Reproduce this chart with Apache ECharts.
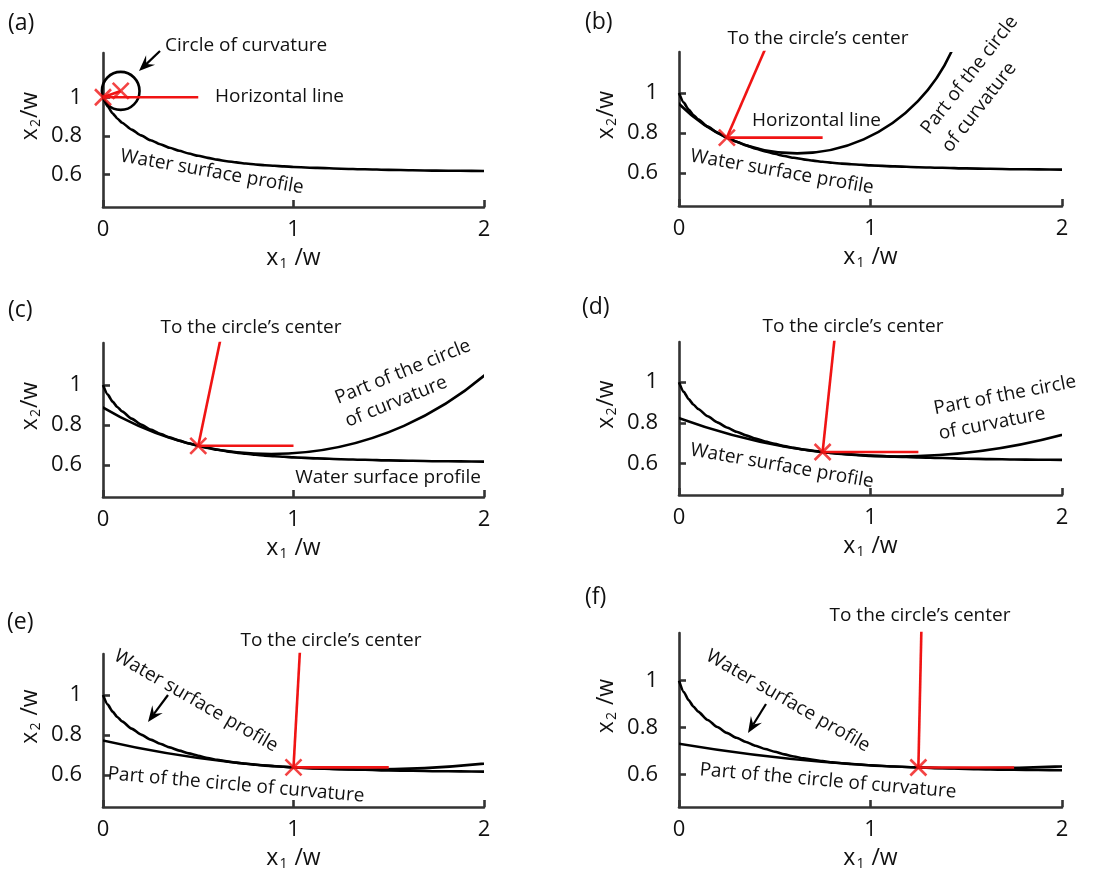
<!DOCTYPE html>
<html><head><meta charset="utf-8">
<script src="https://cdn.jsdelivr.net/npm/echarts@6/dist/echarts.min.js"></script>
<style>html,body{margin:0;padding:0;background:#fff}#c{width:1099px;height:872px}</style>
</head><body><div id="c"></div>
<script>
// ---- data ----
const profileX = [0, 0.025, 0.05, 0.075, 0.1, 0.15, 0.2, 0.25, 0.3, 0.35, 0.4, 0.45, 0.5, 0.55, 0.6, 0.65, 0.7, 0.75, 0.8, 0.85, 0.9, 0.95, 1.0, 1.125, 1.25, 1.375, 1.5, 1.625, 1.75, 1.875, 2.0];
const profileY = [1.0, 0.952, 0.917, 0.89, 0.868, 0.832, 0.802, 0.777, 0.756, 0.738, 0.722, 0.708, 0.696, 0.685, 0.676, 0.668, 0.662, 0.656, 0.651, 0.647, 0.644, 0.641, 0.638, 0.633, 0.629, 0.626, 0.623, 0.621, 0.619, 0.618, 0.617];
const panelLabels = ['(a)', '(b)', '(c)', '(d)', '(e)', '(f)'];
const pointX = [0, 0.25, 0.5, 0.75, 1.0, 1.25];
const pointY = [1.0, 0.777, 0.696, 0.656, 0.638, 0.629];
const horizEndX = [0.5, 0.75, 1.0, 1.25, 1.5, 1.75];
const centerX = [0.093, 0.617, 0.883, 1.139, 1.372, 1.552];
const centerY = [1.033, 1.590, 2.445, 4.140, 7.070, 11.940];
const radius = [0.0987, 0.892, 1.790, 3.506, 6.443, 11.315];
const xTicks = [0, 1, 2];
const yTicks = [0.6, 0.8, 1];

// ---- layout / style ----
const FONT = 'Open Sans';
const TXT = '#111';
const AX = '#333';
const RED = '#f01414';
const panels = [
  {left: 103, top: 53, width: 381, height: 154, min: 0.43, max: 1.23, yname: 'x{s|2}/w'},
  {left: 679, top: 52, width: 383, height: 154, min: 0.435, max: 1.205, yname: 'x{s|2}/w'},
  {left: 103, top: 343, width: 381, height: 154, min: 0.44, max: 1.21, yname: 'x{s|2}/w'},
  {left: 679, top: 342, width: 383, height: 153, min: 0.444, max: 1.198, yname: 'x{s|2}/w'},
  {left: 103, top: 654, width: 381, height: 153, min: 0.44, max: 1.205, yname: 'x{s|2} /w'},
  {left: 679, top: 633, width: 383, height: 174, min: 0.46, max: 1.204, yname: 'x{s|2} /w'}
];
const rich = {s: {fontSize: 14, fontFamily: FONT, color: TXT, padding: [12, 1, 0, 1]}};

const grid = [], xAxis = [], yAxis = [], series = [];
panels.forEach((p, i) => {
  grid.push({left: p.left, top: p.top, width: p.width, height: p.height, containLabel: false});
  xAxis.push({
    gridIndex: i, type: 'value', min: xTicks[0], max: xTicks[xTicks.length - 1], interval: 1,
    axisLine: {show: true, onZero: false, lineStyle: {color: AX, width: 2.6}},
    axisTick: {show: true, inside: true, length: 7, lineStyle: {color: AX, width: 2.6}},
    axisLabel: {margin: 12, fontSize: 22, fontFamily: FONT, color: TXT},
    splitLine: {show: false},
    name: 'x{s|1} /w', nameLocation: 'middle', nameGap: 38,
    nameTextStyle: {fontSize: 23, fontFamily: FONT, color: TXT, rich: rich}
  });
  yAxis.push({
    gridIndex: i, type: 'value', min: p.min, max: p.max,
    axisLine: {show: true, onZero: false, lineStyle: {color: AX, width: 2.6}},
    axisTick: {show: true, inside: true, length: 7, customValues: yTicks, lineStyle: {color: AX, width: 2.6}},
    axisLabel: {margin: 21, fontSize: 22, fontFamily: FONT, color: TXT, customValues: yTicks},
    splitLine: {show: false},
    name: p.yname, nameLocation: 'middle', nameGap: 60,
    nameTextStyle: {fontSize: 23, fontFamily: FONT, color: TXT, rich: rich, padding: [0, 0, 0, 28]}
  });
  // water surface profile
  series.push({
    type: 'line', xAxisIndex: i, yAxisIndex: i, showSymbol: false, smooth: 0.2, smoothMonotone: 'x',
    data: profileX.map((x, j) => [x, profileY[j]]),
    lineStyle: {color: '#000', width: 2.6}, z: 2, silent: true
  });
  // circle of curvature
  series.push({
    type: 'custom', xAxisIndex: i, yAxisIndex: i, clip: i > 0, silent: true, z: 2,
    data: [[centerX[i], centerY[i], radius[i]]],
    renderItem: function (params, api) {
      const c = api.coord([api.value(0), api.value(1)]);
      const s = api.size([api.value(2), api.value(2)]);
      return {type: 'ellipse', shape: {cx: c[0], cy: c[1], rx: s[0], ry: s[1]},
        style: {fill: 'none', stroke: '#000', lineWidth: 2.6}};
    }
  });
  // line to the circle's center
  series.push({
    type: 'line', xAxisIndex: i, yAxisIndex: i, showSymbol: false, clip: true, z: 3, silent: true,
    data: [[pointX[i], pointY[i]], [centerX[i], centerY[i]]],
    lineStyle: {color: RED, width: 2.6}
  });
  // horizontal line
  series.push({
    type: 'line', xAxisIndex: i, yAxisIndex: i, showSymbol: false, z: 3, silent: true,
    data: [[pointX[i], pointY[i]], [horizEndX[i], pointY[i]]],
    lineStyle: {color: RED, width: 2.6}
  });
  // crosses
  const crosses = [[pointX[i], pointY[i]]];
  if (i === 0) crosses.push([centerX[i], centerY[i]]);
  series.push({
    type: 'scatter', xAxisIndex: i, yAxisIndex: i, clip: false, z: 4, silent: true,
    symbol: 'path://M0,0L10,10M10,0L0,10', symbolSize: 16,
    itemStyle: {color: 'none', borderColor: RED, borderWidth: 2.6},
    data: crosses
  });
});

// ---- annotations ----
const deg = Math.PI / 180;
const g = [];
function txt(text, x, y, opts) {
  opts = opts || {};
  g.push({type: 'text', x: x, y: y, rotation: (opts.rot || 0) * deg, z: 10, silent: true,
    style: {text: text, fontSize: opts.size || 19, fontFamily: FONT, fill: TXT,
      align: opts.align || 'center', verticalAlign: 'middle'}});
}
function arrow(sx, sy, tx, ty) {
  const dx = tx - sx, dy = ty - sy, L = Math.hypot(dx, dy);
  const ux = dx / L, uy = dy / L, nx = -uy, ny = ux;
  const hl = 16, hw = 6.5, notch = 10;
  g.push({type: 'line', z: 10, silent: true, shape: {x1: sx, y1: sy, x2: tx - ux * notch, y2: ty - uy * notch},
    style: {stroke: '#000', lineWidth: 2.2}});
  g.push({type: 'polygon', z: 10, silent: true, shape: {points: [
    [tx, ty], [tx - ux * hl + nx * hw, ty - uy * hl + ny * hw],
    [tx - ux * notch, ty - uy * notch], [tx - ux * hl - nx * hw, ty - uy * hl - ny * hw]]},
    style: {fill: '#000'}});
}
const labelPos = [[8, 23], [585, 22], [8, 310], [582, 307], [7, 622], [585, 597]];
panelLabels.forEach((t, i) => txt(t, labelPos[i][0], labelPos[i][1], {align: 'left', size: 23}));

// (a)
txt('Circle of curvature', 165, 46, {align: 'left'});
arrow(160, 51, 139, 71);
txt('Horizontal line', 215, 97, {align: 'left'});
txt('Water surface profile', 212, 172, {rot: -10});
// (b)
txt('To the circle\u2019s center', 818, 39);
txt('Horizontal line', 752, 121, {align: 'left'});
txt('Part of the circle', 925, 132, {align: 'left', rot: 52});
txt('of curvature', 946, 150, {align: 'left', rot: 52});
txt('Water surface profile', 782, 172, {rot: -10});
// (c)
txt('To the circle\u2019s center', 251, 328);
txt('Part of the circle', 336, 399, {align: 'left', rot: 22});
txt('of curvature', 346, 422, {align: 'left', rot: 22});
txt('Water surface profile', 481, 478, {align: 'right'});
// (d)
txt('To the circle\u2019s center', 853, 327);
txt('Part of the circle', 934, 409, {align: 'left', rot: 11});
txt('of curvature', 939, 434, {align: 'left', rot: 11});
txt('Water surface profile', 782, 466, {rot: -10});
// (e)
txt('Water surface profile', 196, 701, {rot: -30});
arrow(168, 695, 148, 722);
txt('To the circle\u2019s center', 331, 641);
txt('Part of the circle of curvature', 236, 785, {rot: -5});
// (f)
txt('Water surface profile', 788, 701, {rot: -30});
arrow(766, 704, 748, 733);
txt('To the circle\u2019s center', 920, 616);
txt('Part of the circle of curvature', 828, 781, {rot: -5});

const chart = echarts.init(document.getElementById('c'));
chart.setOption({
  animation: false,
  backgroundColor: '#fff',
  grid: grid, xAxis: xAxis, yAxis: yAxis, series: series, graphic: g
});
</script>
</body></html>
